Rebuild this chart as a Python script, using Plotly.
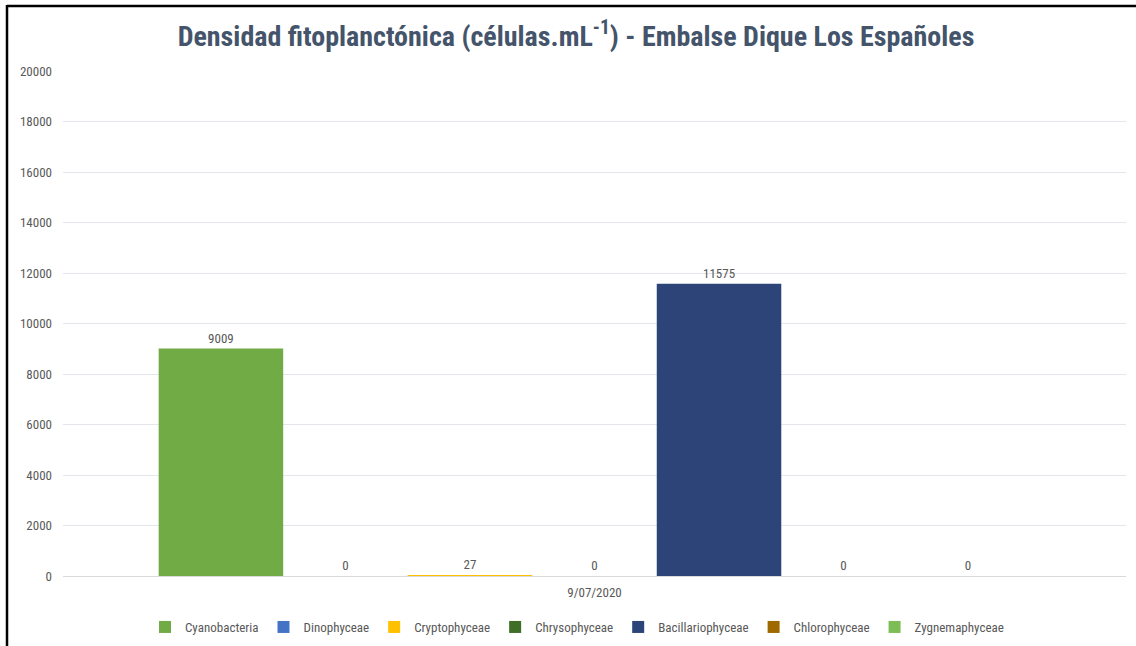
import plotly.graph_objects as go

date_label = ["9/07/2020"]
series_names = ["Cyanobacteria", "Dinophyceae", "Cryptophyceae", "Chrysophyceae",
                "Bacillariophyceae", "Chlorophyceae", "Zygnemaphyceae"]
series_values = [9009, 0, 27, 0, 11575, 0, 0]
series_colors = ["#70AB45", "#4472C4", "#FFC000", "#3F6F27",
                 "#2D4478", "#9E6A00", "#7CBD55"]
y_ticks = list(range(0, 20001, 2000))

FONT = "Liberation Sans Narrow, Arial Narrow, Roboto Condensed, Liberation Sans, sans-serif"
TXT = "#595959"

fig = go.Figure()
for name, val, col in zip(series_names, series_values, series_colors):
    fig.add_trace(go.Bar(
        x=date_label, y=[val], name=name,
        marker=dict(color=col, line=dict(width=0)),
        text=[str(val)], textposition="outside",
        textfont=dict(family=FONT, size=13, color=TXT),
        cliponaxis=False,
    ))

W, H = 1136, 646
ml, mr, mt, mb = 63, 10, 71, 70
pw, ph = W - ml - mr, H - mt - mb

def px_x(p):
    return (p - ml) / pw

def px_y(p):
    return (H - mb - p) / ph

fig.update_layout(
    width=W, height=H,
    margin=dict(l=ml, r=mr, t=mt, b=mb, autoexpand=False),
    paper_bgcolor="white", plot_bgcolor="white",
    barmode="group", bargap=0.18, bargroupgap=0,
    title=dict(
        text="<b>Densidad fitoplanctónica (células.mL<sup>-1</sup>) - Embalse Dique Los Españoles</b>",
        x=576 / W, xref="container", xanchor="center",
        y=1 - 36 / H, yref="container", yanchor="middle",
        font=dict(family=FONT, size=28, color="#44546A"),
    ),
    font=dict(family=FONT, size=13, color=TXT),
    xaxis=dict(type="category", showgrid=False, ticks="", showline=True,
               linecolor="#D9D9D9", linewidth=1, ticklabelstandoff=4,
               automargin=False,
               tickfont=dict(family=FONT, size=13, color=TXT)),
    yaxis=dict(range=[0, 20000], tickvals=y_ticks, tickformat="d", showgrid=True,
               gridcolor="#E3E6EA", gridwidth=1, zeroline=True,
               zerolinecolor="#D9D9D9", zerolinewidth=1, ticks="",
               ticklabelstandoff=10, automargin=False,
               tickfont=dict(family=FONT, size=13, color=TXT)),
    legend=dict(orientation="h", xref="container", x=577 / W, xanchor="center",
                yref="container", y=1 - 627 / H, yanchor="middle",
                font=dict(family=FONT, size=13, color=TXT),
                itemwidth=30, traceorder="normal"),
    showlegend=True,
    shapes=[
        dict(type="line", xref="paper", yref="paper", x0=px_x(7), x1=px_x(W + 5),
             y0=px_y(6), y1=px_y(6), line=dict(color="black", width=2.5)),
        dict(type="line", xref="paper", yref="paper", x0=px_x(7), x1=px_x(7),
             y0=px_y(5), y1=px_y(H + 5), line=dict(color="black", width=2.5)),
    ],
)

fig.write_html("out.html", config={"displayModeBar": False},
               post_script="document.body.style.margin='0';document.body.style.overflow='hidden';")
